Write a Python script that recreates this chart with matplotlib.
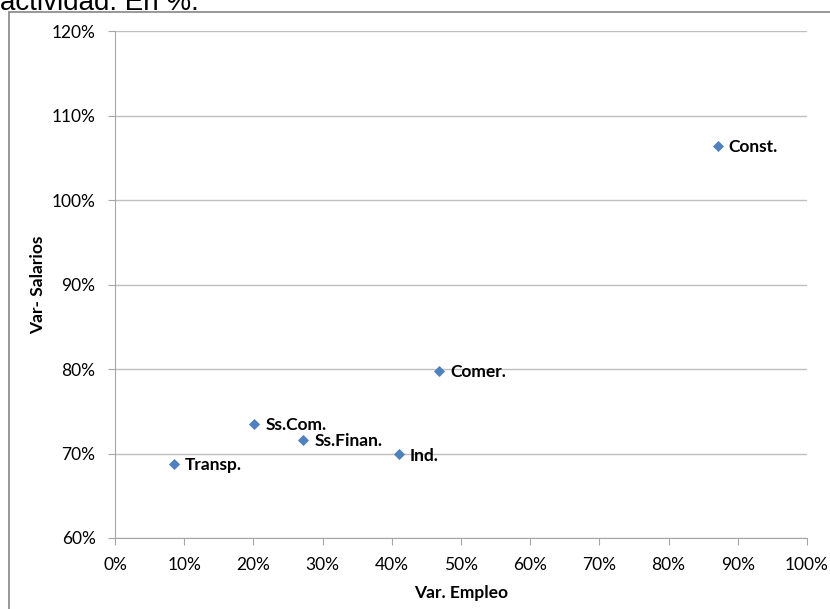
import matplotlib
matplotlib.use("Agg")
import matplotlib.pyplot as plt
from matplotlib.patches import Rectangle
from matplotlib.ticker import FuncFormatter, MultipleLocator

categories = ["Const.", "Comer.", "Ss.Com.", "Ss.Finan.", "Ind.", "Transp."]
var_empleo = [87.1, 46.8, 20.1, 27.2, 41.0, 8.5]
var_salarios = [106.4, 79.8, 73.5, 71.6, 69.9, 68.8]

plt.rcParams['font.family'] = ['Lato', 'DejaVu Sans']

fig = plt.figure(figsize=(8.3, 6.09), dpi=100)
W, H = 830, 609
ax = fig.add_axes([115 / W, 1 - 538 / H, 692 / W, 507 / H])

ax.scatter(var_empleo, var_salarios, marker='D', s=32, color='#4F81BD', zorder=3,
           linewidths=0)
for name, x, y in zip(categories, var_empleo, var_salarios):
    ax.annotate(name, (x, y), xytext=(8, -1), textcoords='offset points',
                ha='left', va='center', fontsize=12.5, fontweight='bold', color='black')

ax.set_xlim(0, 100)
ax.set_ylim(60, 120)
ax.xaxis.set_major_locator(MultipleLocator(10))
ax.yaxis.set_major_locator(MultipleLocator(10))
ax.xaxis.set_major_formatter(FuncFormatter(lambda v, p: f"{v:.0f}%"))
ax.yaxis.set_major_formatter(FuncFormatter(lambda v, p: f"{v:.0f}%"))
ax.grid(axis='y', color='#BFBFBF', linewidth=1)
ax.set_axisbelow(True)
for s in ['top', 'right']:
    ax.spines[s].set_visible(False)
for s in ['left', 'bottom']:
    ax.spines[s].set_color('#A6A6A6')
ax.tick_params(axis='both', direction='out', length=5, color='#A6A6A6',
               labelsize=12.5, labelcolor='black')
ax.tick_params(axis='x', pad=9)
ax.tick_params(axis='y', pad=9)

ax.set_xlabel("Var. Empleo", fontsize=12.5, fontweight='bold', labelpad=8)
ax.set_ylabel("Var- Salarios", fontsize=12.5, fontweight='bold', labelpad=4)

fig.patches.append(Rectangle((9 / W, -0.1), 1.2, 1 - 12 / H + 0.1, transform=fig.transFigure,
                             fill=False, edgecolor='#868686', linewidth=1.2))
fig.text(0, 1 - 10 / H, "actividad. En %.", fontsize=20, family='Liberation Sans',
         ha='left', va='baseline')

fig.savefig("out.png", dpi=100)
